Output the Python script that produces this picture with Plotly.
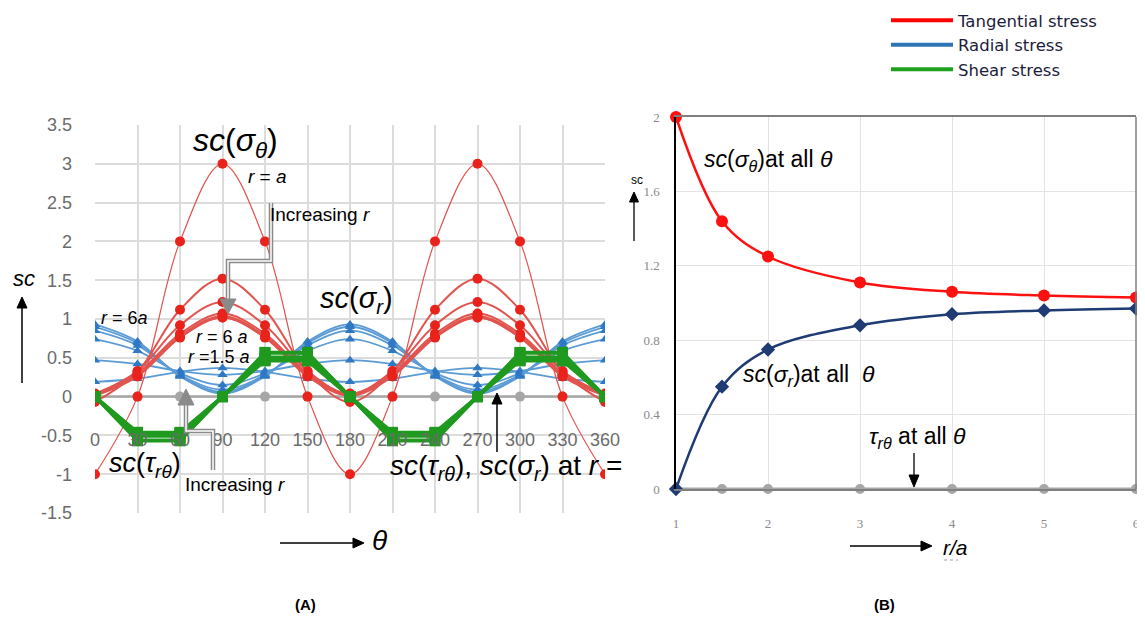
import math
import plotly.graph_objects as go

# the page body keeps an 8px margin; the figure runs from there to the window's right/bottom edge
OFF = 8
W, H = 1145 - OFF, 622 - OFF

# ---------------- data: panel A (stress concentration vs theta) ----------------
theta = [0, 30, 60, 90, 120, 150, 180, 210, 240, 270, 300, 330, 360]
theta_ticks = ["0", "30", "60", "90", "120", "150", "180", "210", "240", "270", "300", "330", "360"]
sc_ticks = [-1.5, -1, -0.5, 0, 0.5, 1, 1.5, 2, 2.5, 3, 3.5]
sc_tick_text = ["-1.5", "-1", "-0.5", "0", "0.5", "1", "1.5", "2", "2.5", "3", "3.5"]

# tangential stress sc(sigma_theta) for r = a, 1.5a, 2a, 3a, 4a, 5a, 6a
tan_r1 = [-1.0, 0.0, 2.0, 3.0, 2.0, 0.0, -1.0, 0.0, 2.0, 3.0, 2.0, 0.0, -1.0]
tan_r15 = [-0.07, 0.32, 1.12, 1.52, 1.12, 0.32, -0.07, 0.32, 1.12, 1.52, 1.12, 0.32, -0.07]
tan_r2 = [0.03, 0.33, 0.92, 1.22, 0.92, 0.33, 0.03, 0.33, 0.92, 1.22, 0.92, 0.33, 0.03]
tan_r3 = [0.04, 0.30, 0.81, 1.07, 0.81, 0.30, 0.04, 0.30, 0.81, 1.07, 0.81, 0.30, 0.04]
tan_r4 = [0.03, 0.28, 0.78, 1.04, 0.78, 0.28, 0.03, 0.28, 0.78, 1.04, 0.78, 0.28, 0.03]
tan_r5 = [0.02, 0.27, 0.77, 1.02, 0.77, 0.27, 0.02, 0.27, 0.77, 1.02, 0.77, 0.27, 0.02]
tan_r6 = [0.01, 0.26, 0.76, 1.02, 0.76, 0.26, 0.01, 0.26, 0.76, 1.02, 0.76, 0.26, 0.01]

# radial stress sc(sigma_r) for r = 1.5a ... 6a
rad_r15 = [0.19, 0.23, 0.32, 0.37, 0.32, 0.23, 0.19, 0.23, 0.32, 0.37, 0.32, 0.23, 0.19]
rad_r2 = [0.47, 0.42, 0.33, 0.28, 0.33, 0.42, 0.47, 0.42, 0.33, 0.28, 0.33, 0.42, 0.47]
rad_r3 = [0.74, 0.59, 0.30, 0.15, 0.30, 0.59, 0.74, 0.59, 0.30, 0.15, 0.30, 0.59, 0.74]
rad_r4 = [0.85, 0.66, 0.28, 0.09, 0.28, 0.66, 0.85, 0.66, 0.28, 0.09, 0.28, 0.66, 0.85]
rad_r5 = [0.90, 0.69, 0.27, 0.06, 0.27, 0.69, 0.90, 0.69, 0.27, 0.06, 0.27, 0.69, 0.90]
rad_r6 = [0.93, 0.71, 0.26, 0.04, 0.26, 0.71, 0.93, 0.71, 0.26, 0.04, 0.26, 0.71, 0.93]

# shear stress sc(tau_r_theta) for r = 1.5a ... 6a
sh_r15 = [0, -0.56, -0.56, 0, 0.56, 0.56, 0, -0.56, -0.56, 0, 0.56, 0.56, 0]
sh_r2 = [0, -0.57, -0.57, 0, 0.57, 0.57, 0, -0.57, -0.57, 0, 0.57, 0.57, 0]
sh_r3 = [0, -0.51, -0.51, 0, 0.51, 0.51, 0, -0.51, -0.51, 0, 0.51, 0.51, 0]
sh_r4 = [0, -0.48, -0.48, 0, 0.48, 0.48, 0, -0.48, -0.48, 0, 0.48, 0.48, 0]
sh_r5 = [0, -0.47, -0.47, 0, 0.47, 0.47, 0, -0.47, -0.47, 0, 0.47, 0.47, 0]
sh_r6 = [0, -0.46, -0.46, 0, 0.46, 0.46, 0, -0.46, -0.46, 0, 0.46, 0.46, 0]

# sc(sigma_r) and sc(tau) at r = a
zero_r1 = [0, 0, 0, 0, 0, 0, 0, 0, 0, 0, 0, 0, 0]

# ---------------- data: panel B (stress concentration vs r/a) ----------------
r_over_a = [1, 1.5, 2, 3, 4, 5, 6]
tan_b = [2.0, 1.44, 1.25, 1.11, 1.06, 1.04, 1.03]
rad_b = [0.0, 0.55, 0.75, 0.88, 0.94, 0.96, 0.97]
shear_b = [0, 0, 0, 0, 0, 0, 0]
b_xticks = [1, 2, 3, 4, 5, 6]
b_yticks = [0, 0.4, 0.8, 1.2, 1.6, 2]
b_ytext = ["0", "0.4", "0.8", "1.2", "1.6", "2"]

legend_names = ["Tangential stress", "Radial stress", "Shear stress"]


def px(x):
    return min(1.0, max(0.0, (x - OFF) / W))


def py(y):
    return 1 - (y - OFF) / H


RED_M = "#e8231c"
RED_L = "#e2544f"
BLUE_M = "#2e78c4"
BLUE_L = "#5b9bd5"
GREEN = "#1f9a1f"
GRAY = "#a6a6a6"

fig = go.Figure()

# ---- panel A traces ----
fig.add_trace(go.Scatter(x=theta, y=zero_r1, mode="lines+markers", line=dict(color=GRAY, width=2.5),
                         marker=dict(color=GRAY, size=10), showlegend=False, xaxis="x", yaxis="y"))
for ys in [rad_r15, rad_r2, rad_r3, rad_r4, rad_r5, rad_r6]:
    fig.add_trace(go.Scatter(x=theta, y=ys, mode="lines+markers",
                             line=dict(color=BLUE_L, width=1.8, shape="spline"),
                             marker=dict(color=BLUE_M, size=9, symbol="triangle-up"),
                             showlegend=False, xaxis="x", yaxis="y"))
fig.add_trace(go.Scatter(x=theta, y=tan_r1, mode="lines+markers",
                         line=dict(color=RED_L, width=1.2, shape="spline"),
                         marker=dict(color=RED_M, size=10), showlegend=False, xaxis="x", yaxis="y"))
for ys in [tan_r15, tan_r2, tan_r3, tan_r4, tan_r5, tan_r6]:
    fig.add_trace(go.Scatter(x=theta, y=ys, mode="lines+markers",
                             line=dict(color=RED_L, width=2, shape="spline"),
                             marker=dict(color=RED_M, size=10),
                             showlegend=False, xaxis="x", yaxis="y"))
for ys in [sh_r15, sh_r2, sh_r3, sh_r4, sh_r5, sh_r6]:
    fig.add_trace(go.Scatter(x=theta, y=ys, mode="lines+markers",
                             line=dict(color=GREEN, width=3.2),
                             marker=dict(color=GREEN, size=11, symbol="square"),
                             showlegend=False, xaxis="x", yaxis="y"))

# ---- panel B traces ----
fig.add_trace(go.Scatter(x=r_over_a, y=shear_b, mode="lines+markers", line=dict(color=GRAY, width=3),
                         marker=dict(color=GRAY, size=10), showlegend=False, cliponaxis=False,
                         xaxis="x2", yaxis="y2"))
fig.add_trace(go.Scatter(x=r_over_a, y=tan_b, mode="lines+markers",
                         line=dict(color="#ff1010", width=2.5, shape="spline"),
                         marker=dict(color="#ff1010", size=12), showlegend=False, cliponaxis=False,
                         xaxis="x2", yaxis="y2"))
fig.add_trace(go.Scatter(x=r_over_a, y=rad_b, mode="lines+markers",
                         line=dict(color="#1f3b73", width=2.5, shape="spline"),
                         marker=dict(color="#1f3b73", size=11, symbol="diamond"), showlegend=False,
                         cliponaxis=False, xaxis="x2", yaxis="y2"))

# ---- legend entries ----
for name, col in zip(legend_names, ["#ff0000", "#2e75b6", "#1fa01f"]):
    fig.add_trace(go.Scatter(x=[None], y=[None], mode="lines", name=name,
                             line=dict(color=col, width=4), xaxis="x2", yaxis="y2"))

FONT = "Liberation Sans, Arial, sans-serif"
NARROW = "Liberation Sans Narrow, Arial Narrow, Liberation Sans, Arial, sans-serif"
SERIF = "Liberation Serif, Times New Roman, serif"

ann = []
shapes = []


def text(x, y, s, size, anchor="center", bold=False, color="black", family=FONT):
    ann.append(dict(x=px(x), y=py(y), xref="paper", yref="paper", text=("<b>%s</b>" % s) if bold else s,
                    showarrow=False, xanchor=anchor, yanchor="middle",
                    font=dict(size=size, color=color, family=family)))


def pth(points, close=False):
    s = "M " + " L ".join("%.5f,%.5f" % (px(a), py(b)) for a, b in points)
    return s + (" Z" if close else "")


def arrow(x0, y0, x1, y1, color="black", width=1.5, hl=11, hw=5):
    d = math.hypot(x1 - x0, y1 - y0)
    ux, uy = (x1 - x0) / d, (y1 - y0) / d
    bx, by = x1 - hl * ux, y1 - hl * uy
    shapes.append(dict(type="path", xref="paper", yref="paper", path=pth([(x0, y0), (bx, by)]),
                       line=dict(color=color, width=width)))
    shapes.append(dict(type="path", xref="paper", yref="paper",
                       path=pth([(x1, y1), (bx - hw * uy, by + hw * ux), (bx + hw * uy, by - hw * ux)], True),
                       fillcolor=color, line=dict(color=color, width=1)))


# panel A labels
text(24, 278, "<i>sc</i>", 22)
arrow(22, 383, 22, 297)
text(235, 142, "<i>sc</i>(<i>σ<sub>θ</sub></i>)", 32)
text(267, 176, "<i>r</i> = <i>a</i>", 19)
text(268, 215, "Increasing <i>r</i>", 19, anchor="left")
text(125, 318, "<i>r</i> = 6<i>a</i>", 18)
text(222, 337, "<i>r</i> = 6 <i>a</i>", 18)
text(219, 357, "<i>r</i> =1.5 <i>a</i>", 18)
text(356, 300, "<i>sc</i>(<i>σ<sub>r</sub></i>)", 29)
text(145, 465, "<i>sc</i>(<i>τ<sub>rθ</sub></i>)", 27)
text(183, 484, "Increasing <i>r</i>", 19, anchor="left")
text(388, 467, "<i>sc</i>(<i>τ<sub>rθ</sub></i>), <i>sc</i>(<i>σ<sub>r</sub></i>) at <i>r</i> =", 28, anchor="left")
arrow(497, 452, 497, 393)
arrow(280, 543, 364, 543)
text(379, 540, "<i>θ</i>", 28)
text(305, 604, "(A)", 15, bold=True)

# panel B labels
text(637, 180, "sc", 12)
arrow(634, 241, 634, 192, width=1.3, hl=10, hw=4.5)
text(702, 160, "<i>sc</i>(<i>σ<sub>θ</sub></i>)at all <i>θ</i>", 23, anchor="left")
text(741, 375, "<i>sc</i>(<i>σ<sub>r</sub></i>)at all  <i>θ</i>", 23, anchor="left")
text(867, 437, "<i>τ<sub>rθ</sub></i> at all <i>θ</i>", 23, anchor="left")
arrow(914, 453, 914, 487, width=1.3, hl=12, hw=5)
arrow(850, 546, 932, 546)
text(955, 547, "<i>r/a</i>", 21)
text(884, 604, "(B)", 15, bold=True)

# gray bent arrows (double-line style)
for pts in ([(271, 203), (271, 261), (228, 261), (228, 301)],
            [(186, 403), (186, 431), (213, 431), (213, 470)]):
    shapes.append(dict(type="path", xref="paper", yref="paper", path=pth(pts),
                       line=dict(color="#8a8a8a", width=4.5)))
    shapes.append(dict(type="path", xref="paper", yref="paper", path=pth(pts),
                       line=dict(color="white", width=1.5)))
shapes.append(dict(type="path", xref="paper", yref="paper",
                   path=pth([(220, 299), (236, 299), (228, 314)], True),
                   fillcolor="#8a8a8a", line=dict(color="#8a8a8a", width=1)))
shapes.append(dict(type="path", xref="paper", yref="paper",
                   path=pth([(178, 405), (194, 405), (186, 389)], True),
                   fillcolor="#8a8a8a", line=dict(color="#8a8a8a", width=1)))
# panel B right border
shapes.append(dict(type="line", xref="paper", yref="paper", x0=px(1136), x1=px(1136), y0=py(117), y1=py(489),
                   line=dict(color="#7f7f7f", width=1.5)))
# dotted underline under r/a
shapes.append(dict(type="line", xref="paper", yref="paper", x0=px(944), x1=px(958), y0=py(560), y1=py(560),
                   line=dict(color="#a0a0a0", width=1, dash="dot")))

fig.update_layout(
    width=W, height=H, margin=dict(l=0, r=0, t=0, b=0, autoexpand=False), autosize=False,
    paper_bgcolor="white", plot_bgcolor="white",
    font=dict(family=FONT),
    xaxis=dict(domain=[px(95), px(605)], range=[0, 360], tickvals=theta, ticktext=theta_ticks,
               showgrid=True, gridcolor="#dcdcdc", gridwidth=1.5, zeroline=False, showline=False,
               anchor="free", position=py(427), ticks="", tickfont=dict(size=18, color="#6b6b6b", family=NARROW)),
    yaxis=dict(domain=[py(513), py(125)], range=[-1.5, 3.5], tickvals=sc_ticks, ticktext=sc_tick_text,
               showgrid=True, gridcolor="#dcdcdc", gridwidth=1.5, zeroline=False, showline=False,
               ticklabelstandoff=22, tickfont=dict(size=18, color="#6b6b6b", family=NARROW), anchor="x"),
    xaxis2=dict(domain=[px(676), px(1136)], range=[1, 6], tickvals=b_xticks,
                showgrid=True, gridcolor="#e3e3e3", gridwidth=1, zeroline=False,
                showline=True, mirror=True, linecolor="#7f7f7f", linewidth=1.5, ticklabeloverflow="allow",
                ticklabelstandoff=22, tickfont=dict(size=13, color="#8a8a8a", family=SERIF), anchor="y2"),
    yaxis2=dict(domain=[py(489), py(117)], range=[0, 2], tickvals=b_yticks, ticktext=b_ytext,
                showgrid=True, gridcolor="#e3e3e3", gridwidth=1, zeroline=False,
                showline=True, linecolor="black", linewidth=1.5,
                ticklabelstandoff=12, tickfont=dict(size=13, color="#8a8a8a", family=SERIF), anchor="x2"),
    legend=dict(x=px(886), y=py(3), xanchor="left", yanchor="top", bgcolor="rgba(0,0,0,0)",
                font=dict(size=16.5, color="#1c1c3c", family="DejaVu Sans, Liberation Sans, sans-serif"),
                tracegroupgap=0, itemwidth=62),
    annotations=ann, shapes=shapes,
)

fig.write_html("out.html", config={"displayModeBar": False})
